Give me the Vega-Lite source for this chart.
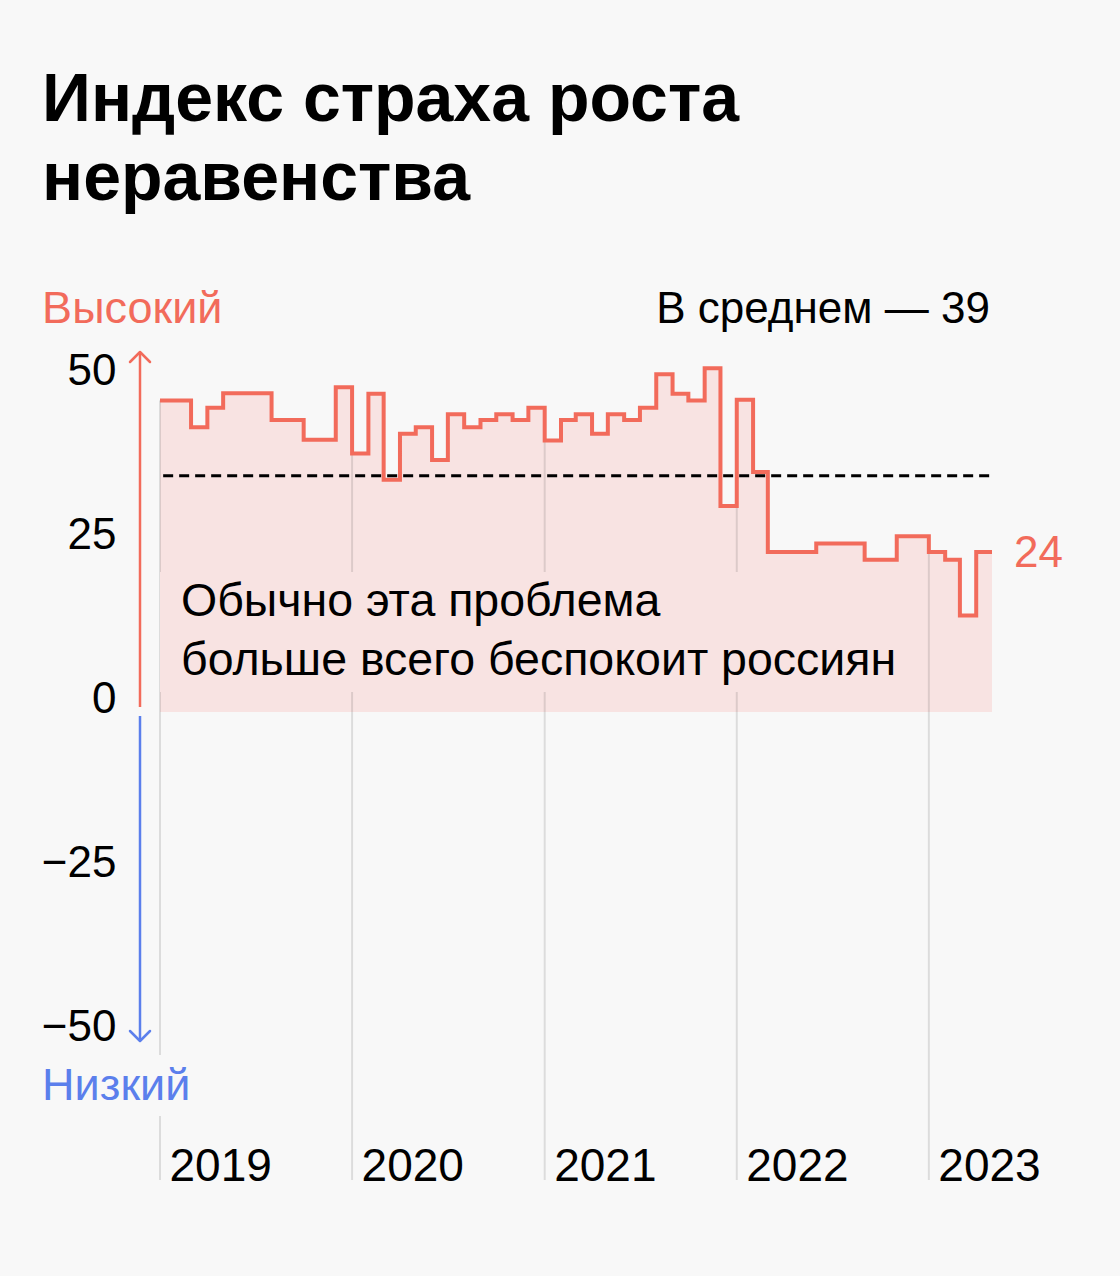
{
  "$schema": "https://vega.github.io/schema/vega-lite/v6.json",
  "width": 832,
  "height": 828,
  "autosize": {"type": "none"},
  "padding": {"left": 160, "top": 352, "right": 128, "bottom": 96},
  "background": "#f8f8f8",
  "config": {
    "view": {"stroke": null},
    "font": "Liberation Sans",
    "text": {"font": "Liberation Sans"}
  },
  "resolve": {"axis": {"x": "independent", "y": "independent"}},
  "datasets": {
    "index": [
      {"date": "2019-01-01", "value": 47.5},
      {"date": "2019-02-01", "value": 47.5},
      {"date": "2019-03-01", "value": 43.4},
      {"date": "2019-04-01", "value": 46.4},
      {"date": "2019-05-01", "value": 48.6},
      {"date": "2019-06-01", "value": 48.6},
      {"date": "2019-07-01", "value": 48.6},
      {"date": "2019-08-01", "value": 44.5},
      {"date": "2019-09-01", "value": 44.5},
      {"date": "2019-10-01", "value": 41.5},
      {"date": "2019-11-01", "value": 41.5},
      {"date": "2019-12-01", "value": 49.5},
      {"date": "2020-01-01", "value": 39.4},
      {"date": "2020-02-01", "value": 48.5},
      {"date": "2020-03-01", "value": 35.4},
      {"date": "2020-04-01", "value": 42.4},
      {"date": "2020-05-01", "value": 43.4},
      {"date": "2020-06-01", "value": 38.4},
      {"date": "2020-07-01", "value": 45.4},
      {"date": "2020-08-01", "value": 43.4},
      {"date": "2020-09-01", "value": 44.5},
      {"date": "2020-10-01", "value": 45.4},
      {"date": "2020-11-01", "value": 44.5},
      {"date": "2020-12-01", "value": 46.4},
      {"date": "2021-01-01", "value": 41.4},
      {"date": "2021-02-01", "value": 44.5},
      {"date": "2021-03-01", "value": 45.4},
      {"date": "2021-04-01", "value": 42.4},
      {"date": "2021-05-01", "value": 45.4},
      {"date": "2021-06-01", "value": 44.5},
      {"date": "2021-07-01", "value": 46.4},
      {"date": "2021-08-01", "value": 51.5},
      {"date": "2021-09-01", "value": 48.5},
      {"date": "2021-10-01", "value": 47.5},
      {"date": "2021-11-01", "value": 52.4},
      {"date": "2021-12-01", "value": 31.4},
      {"date": "2022-01-01", "value": 47.6},
      {"date": "2022-02-01", "value": 36.6},
      {"date": "2022-03-01", "value": 24.4},
      {"date": "2022-04-01", "value": 24.4},
      {"date": "2022-05-01", "value": 24.4},
      {"date": "2022-06-01", "value": 25.7},
      {"date": "2022-07-01", "value": 25.7},
      {"date": "2022-08-01", "value": 25.7},
      {"date": "2022-09-01", "value": 23.2},
      {"date": "2022-10-01", "value": 23.2},
      {"date": "2022-11-01", "value": 26.8},
      {"date": "2022-12-01", "value": 26.8},
      {"date": "2023-01-01", "value": 24.4},
      {"date": "2023-02-01", "value": 23.2},
      {"date": "2023-03-01", "value": 14.7},
      {"date": "2023-04-01", "value": 24.4},
      {"date": "2023-05-01", "value": 24.4}
    ],
    "grid": [
      {"date": "2019-01-01", "top": 47.5, "bottom": -52.3},
      {"date": "2019-01-01", "top": -61.6, "bottom": -71.34},
      {"date": "2020-01-01", "top": 39.4, "bottom": -71.34},
      {"date": "2021-01-01", "top": 41.4, "bottom": -71.34},
      {"date": "2022-01-01", "top": 31.4, "bottom": -71.34},
      {"date": "2023-01-01", "top": 24.4, "bottom": -71.34}
    ]
  },
  "layer": [
    {
      "data": {"name": "index"},
      "mark": {"type": "area", "interpolate": "step-after", "color": "#f8e3e2", "opacity": 1},
      "encoding": {
        "x": {
          "field": "date", "type": "temporal",
          "scale": {"type": "utc", "nice": false, "domain": [{"year": 2019, "month": 1, "date": 1, "utc": true}, {"year": 2023, "month": 5, "date": 1, "utc": true}]},
          "axis": {
            "values": [
              {"year": 2019, "month": 1, "date": 1, "utc": true},
              {"year": 2020, "month": 1, "date": 1, "utc": true},
              {"year": 2021, "month": 1, "date": 1, "utc": true},
              {"year": 2022, "month": 1, "date": 1, "utc": true},
              {"year": 2023, "month": 1, "date": 1, "utc": true}
            ],
            "format": "%Y", "title": null, "domain": false, "ticks": false, "tickSize": 0, "grid": false,
            "labelFont": "Liberation Sans", "labelFontSize": 46, "labelColor": "#000000",
            "labelAlign": "left", "labelBaseline": "alphabetic", "labelPadding": 0, "labelOffset": 9,
            "labelFlush": false, "labelOverlap": false, "labelBound": false
          }
        },
        "y": {
          "field": "value", "type": "quantitative",
          "scale": {"domain": [-71.34, 54.88], "nice": false, "zero": false},
          "axis": {
            "values": [-50, -25, 0, 25, 50], "title": null, "domain": false, "ticks": false, "tickSize": 0, "grid": false,
            "labelFont": "Liberation Sans", "labelFontSize": 44, "labelColor": "#000000",
            "labelAlign": "right", "labelBaseline": "middle", "labelPadding": 44, "labelOffset": -13,
            "labelFlush": false, "labelOverlap": false, "labelBound": false
          }
        },
        "y2": {"datum": 0}
      }
    },
    {
      "data": {"name": "grid"},
      "mark": {"type": "rule", "color": "#000000", "opacity": 0.11, "strokeWidth": 2},
      "encoding": {
        "x": {"field": "date", "type": "temporal", "scale": {"type": "utc", "nice": false, "domain": [{"year": 2019, "month": 1, "date": 1, "utc": true}, {"year": 2023, "month": 5, "date": 1, "utc": true}]}, "axis": null},
        "y": {"field": "top", "type": "quantitative", "scale": {"domain": [-71.34, 54.88], "nice": false, "zero": false}, "axis": null},
        "y2": {"field": "bottom"}
      }
    },
    {
      "data": {"values": [{}]},
      "mark": {"type": "rect", "color": "#f8e3e2", "opacity": 1},
      "encoding": {
        "x": {"datum": {"year": 2019, "month": 1, "date": 1, "utc": true}, "type": "temporal", "scale": {"type": "utc", "nice": false, "domain": [{"year": 2019, "month": 1, "date": 1, "utc": true}, {"year": 2023, "month": 5, "date": 1, "utc": true}]}, "axis": null},
        "x2": {"datum": {"year": 2022, "month": 11, "date": 7, "utc": true}},
        "y": {"datum": 21.34, "type": "quantitative", "scale": {"domain": [-71.34, 54.88], "nice": false, "zero": false}, "axis": null},
        "y2": {"datum": 3.05}
      }
    },
    {
      "data": {"name": "index"},
      "mark": {"type": "line", "interpolate": "step-after", "color": "#f26b5b", "strokeWidth": 4, "strokeJoin": "miter", "strokeCap": "butt"},
      "encoding": {
        "x": {"field": "date", "type": "temporal", "scale": {"type": "utc", "nice": false, "domain": [{"year": 2019, "month": 1, "date": 1, "utc": true}, {"year": 2023, "month": 5, "date": 1, "utc": true}]}, "axis": null},
        "y": {"field": "value", "type": "quantitative", "scale": {"domain": [-71.34, 54.88], "nice": false, "zero": false}, "axis": null}
      }
    },
    {
      "data": {"values": [{}]},
      "mark": {"type": "rule", "color": "#000000", "strokeWidth": 3, "strokeDash": [10, 6]},
      "encoding": {
        "x": {"datum": {"year": 2019, "month": 1, "date": 7, "utc": true}, "type": "temporal", "scale": {"type": "utc", "nice": false, "domain": [{"year": 2019, "month": 1, "date": 1, "utc": true}, {"year": 2023, "month": 5, "date": 1, "utc": true}]}, "axis": null},
        "x2": {"datum": {"year": 2023, "month": 5, "date": 1, "utc": true}},
        "y": {"datum": 36, "type": "quantitative", "scale": {"domain": [-71.34, 54.88], "nice": false, "zero": false}, "axis": null}
      }
    },
    {
      "data": {"values": [{"part": "high", "from": 54.88, "to": 0.76}, {"part": "low", "from": -0.6, "to": -50.15}]},
      "mark": {"type": "rule", "strokeWidth": 2.5},
      "encoding": {
        "x": {"datum": {"year": 2018, "month": 11, "date": 24, "utc": true}, "type": "temporal", "scale": {"type": "utc", "nice": false, "domain": [{"year": 2019, "month": 1, "date": 1, "utc": true}, {"year": 2023, "month": 5, "date": 1, "utc": true}]}, "axis": null},
        "y": {"field": "from", "type": "quantitative", "scale": {"domain": [-71.34, 54.88], "nice": false, "zero": false}, "axis": null},
        "y2": {"field": "to"},
        "color": {"field": "part", "type": "nominal", "scale": {"domain": ["high", "low"], "range": ["#f26b5b", "#5b7fec"]}, "legend": null}
      }
    },
    {
      "data": {"values": [{"part": "high", "tip": 54.88}]},
      "mark": {"type": "point", "shape": "M-1,1L0,0L1,1", "size": 400, "filled": false, "strokeWidth": 2.5, "opacity": 1, "color": "#f26b5b", "strokeCap": "round", "strokeJoin": "round"},
      "encoding": {
        "x": {"datum": {"year": 2018, "month": 11, "date": 24, "utc": true}, "type": "temporal", "scale": {"type": "utc", "nice": false, "domain": [{"year": 2019, "month": 1, "date": 1, "utc": true}, {"year": 2023, "month": 5, "date": 1, "utc": true}]}, "axis": null},
        "y": {"field": "tip", "type": "quantitative", "scale": {"domain": [-71.34, 54.88], "nice": false, "zero": false}, "axis": null}
      }
    },
    {
      "data": {"values": [{"part": "low", "tip": -50.15}]},
      "mark": {"type": "point", "shape": "M-1,-1L0,0L1,-1", "size": 400, "filled": false, "strokeWidth": 2.5, "opacity": 1, "color": "#5b7fec", "strokeCap": "round", "strokeJoin": "round"},
      "encoding": {
        "x": {"datum": {"year": 2018, "month": 11, "date": 24, "utc": true}, "type": "temporal", "scale": {"type": "utc", "nice": false, "domain": [{"year": 2019, "month": 1, "date": 1, "utc": true}, {"year": 2023, "month": 5, "date": 1, "utc": true}]}, "axis": null},
        "y": {"field": "tip", "type": "quantitative", "scale": {"domain": [-71.34, 54.88], "nice": false, "zero": false}, "axis": null}
      }
    },
    {
      "data": {"values": [{}]},
      "mark": {"type": "text", "text": ["Индекс страха роста", "неравенства"], "font": "Liberation Sans", "fontSize": 68, "fontWeight": "bold", "color": "#000000", "align": "left", "baseline": "alphabetic", "lineHeight": 79},
      "encoding": {
        "x": {"datum": {"year": 2018, "month": 5, "date": 22, "utc": true}, "type": "temporal", "scale": {"type": "utc", "nice": false, "domain": [{"year": 2019, "month": 1, "date": 1, "utc": true}, {"year": 2023, "month": 5, "date": 1, "utc": true}]}, "axis": null},
        "y": {"datum": 90.09, "type": "quantitative", "scale": {"domain": [-71.34, 54.88], "nice": false, "zero": false}, "axis": null}
      }
    },
    {
      "data": {"values": [{"label": "Высокий", "part": "high", "level": 59.3}, {"label": "Низкий", "part": "low", "level": -59.1}]},
      "mark": {"type": "text", "font": "Liberation Sans", "fontSize": 45, "align": "left", "baseline": "alphabetic"},
      "encoding": {
        "x": {"datum": {"year": 2018, "month": 5, "date": 22, "utc": true}, "type": "temporal", "scale": {"type": "utc", "nice": false, "domain": [{"year": 2019, "month": 1, "date": 1, "utc": true}, {"year": 2023, "month": 5, "date": 1, "utc": true}]}, "axis": null},
        "y": {"field": "level", "type": "quantitative", "scale": {"domain": [-71.34, 54.88], "nice": false, "zero": false}, "axis": null},
        "text": {"field": "label"},
        "color": {"field": "part", "type": "nominal", "scale": {"domain": ["high", "low"], "range": ["#f26b5b", "#5b7fec"]}, "legend": null}
      }
    },
    {
      "data": {"values": [{"label": "В среднем — 39"}]},
      "mark": {"type": "text", "font": "Liberation Sans", "fontSize": 44, "align": "right", "baseline": "alphabetic", "color": "#000000"},
      "encoding": {
        "x": {"datum": {"year": 2023, "month": 4, "date": 27, "utc": true}, "type": "temporal", "scale": {"type": "utc", "nice": false, "domain": [{"year": 2019, "month": 1, "date": 1, "utc": true}, {"year": 2023, "month": 5, "date": 1, "utc": true}]}, "axis": null},
        "y": {"datum": 59.3, "type": "quantitative", "scale": {"domain": [-71.34, 54.88], "nice": false, "zero": false}, "axis": null},
        "text": {"field": "label"}
      }
    },
    {
      "data": {"values": [{}]},
      "mark": {"type": "text", "text": ["Обычно эта проблема", "больше всего беспокоит россиян"], "font": "Liberation Sans", "fontSize": 46.5, "align": "left", "baseline": "alphabetic", "lineHeight": 59, "color": "#000000", "dx": 21},
      "encoding": {
        "x": {"datum": {"year": 2019, "month": 1, "date": 1, "utc": true}, "type": "temporal", "scale": {"type": "utc", "nice": false, "domain": [{"year": 2019, "month": 1, "date": 1, "utc": true}, {"year": 2023, "month": 5, "date": 1, "utc": true}]}, "axis": null},
        "y": {"datum": 14.63, "type": "quantitative", "scale": {"domain": [-71.34, 54.88], "nice": false, "zero": false}, "axis": null}
      }
    },
    {
      "data": {"name": "index"},
      "transform": [{"filter": "utcyear(datum.date) == 2023 && utcmonth(datum.date) == 4"}],
      "mark": {"type": "text", "font": "Liberation Sans", "fontSize": 44, "align": "left", "baseline": "middle", "color": "#f26b5b", "dx": 22, "dy": 2},
      "encoding": {
        "x": {"field": "date", "type": "temporal", "scale": {"type": "utc", "nice": false, "domain": [{"year": 2019, "month": 1, "date": 1, "utc": true}, {"year": 2023, "month": 5, "date": 1, "utc": true}]}, "axis": null},
        "y": {"field": "value", "type": "quantitative", "scale": {"domain": [-71.34, 54.88], "nice": false, "zero": false}, "axis": null},
        "text": {"field": "value", "type": "quantitative", "format": ".0f"}
      }
    }
  ]
}
